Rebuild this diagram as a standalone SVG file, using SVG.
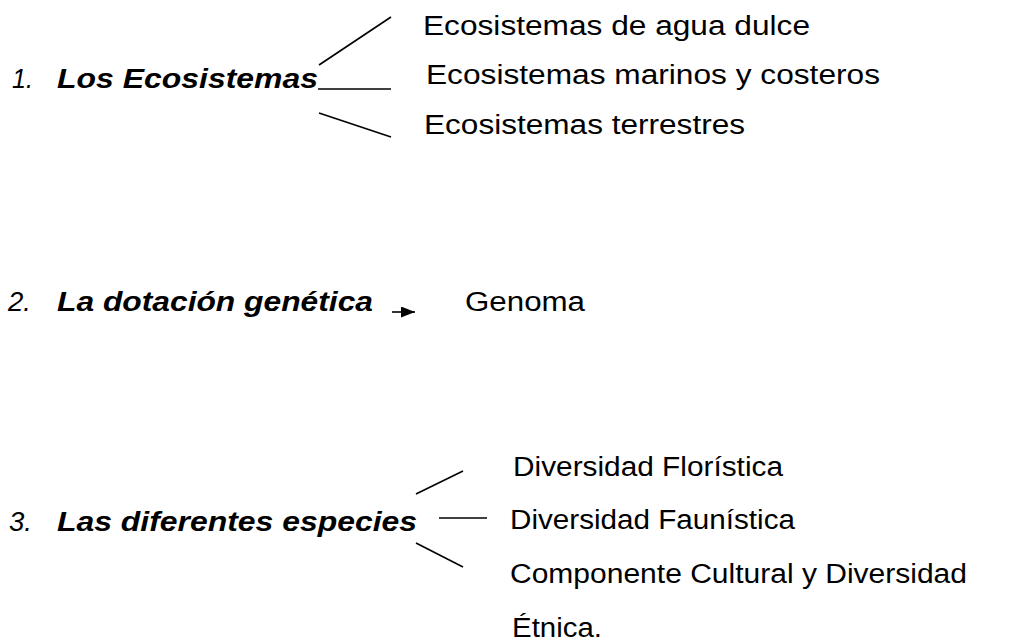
<svg xmlns="http://www.w3.org/2000/svg" width="1010" height="644" viewBox="0 0 1010 644">
<style>
.t{font-family:"Liberation Sans",Arial,sans-serif;font-size:27px;fill:#000}
.n{font-style:italic}
.b{font-style:italic;font-weight:bold}
.c{stroke:#000;stroke-width:1.6;fill:none}
</style>
<defs>
<marker id="ah" viewBox="0 0 14 11" refX="14" refY="5.5" markerWidth="14" markerHeight="11" markerUnits="userSpaceOnUse" orient="auto">
<path d="M0,0 L14,5.5 L0,11 Z" fill="#000"/>
</marker>
</defs>
<rect width="1010" height="644" fill="#fff"/>
<g id="n1">
<text class="t n" x="12" y="88" textLength="21" lengthAdjust="spacingAndGlyphs">1.</text>
<text class="t b" x="57" y="88" textLength="261" lengthAdjust="spacingAndGlyphs">Los Ecosistemas</text>
</g>
<g id="n1a"><text class="t" x="423" y="35" textLength="387" lengthAdjust="spacingAndGlyphs">Ecosistemas de agua dulce</text></g>
<g id="n1b"><text class="t" x="426" y="84" textLength="454" lengthAdjust="spacingAndGlyphs">Ecosistemas marinos y costeros</text></g>
<g id="n1c"><text class="t" x="424" y="134" textLength="321" lengthAdjust="spacingAndGlyphs">Ecosistemas terrestres</text></g>
<g id="n2">
<text class="t n" x="8" y="311" textLength="23" lengthAdjust="spacingAndGlyphs">2.</text>
<text class="t b" x="57" y="311" textLength="316" lengthAdjust="spacingAndGlyphs">La dotación genética</text>
</g>
<g id="n2a"><text class="t" x="465" y="311" textLength="120" lengthAdjust="spacingAndGlyphs">Genoma</text></g>
<g id="n3">
<text class="t n" x="9" y="531" textLength="23" lengthAdjust="spacingAndGlyphs">3.</text>
<text class="t b" x="57" y="531" textLength="360" lengthAdjust="spacingAndGlyphs">Las diferentes especies</text>
</g>
<g id="n3a"><text class="t" x="513" y="476" textLength="270" lengthAdjust="spacingAndGlyphs">Diversidad Florística</text></g>
<g id="n3b"><text class="t" x="510" y="529" textLength="285" lengthAdjust="spacingAndGlyphs">Diversidad Faunística</text></g>
<g id="n3c">
<text class="t" x="510" y="583" textLength="457" lengthAdjust="spacingAndGlyphs">Componente Cultural y Diversidad</text>
<text class="t" x="512" y="637" textLength="90" lengthAdjust="spacingAndGlyphs">Étnica.</text>
</g>
<g id="connectors">
<line class="c" x1="319" y1="65" x2="391" y2="17"/>
<line class="c" x1="318" y1="89" x2="391" y2="89"/>
<line class="c" x1="319" y1="113" x2="391" y2="137"/>
<line class="c" x1="392" y1="312" x2="415" y2="312" marker-end="url(#ah)"/>
<line class="c" x1="416" y1="494" x2="463" y2="471"/>
<line class="c" x1="439" y1="518" x2="487" y2="518"/>
<line class="c" x1="416" y1="543" x2="463" y2="567"/>
</g>
</svg>
